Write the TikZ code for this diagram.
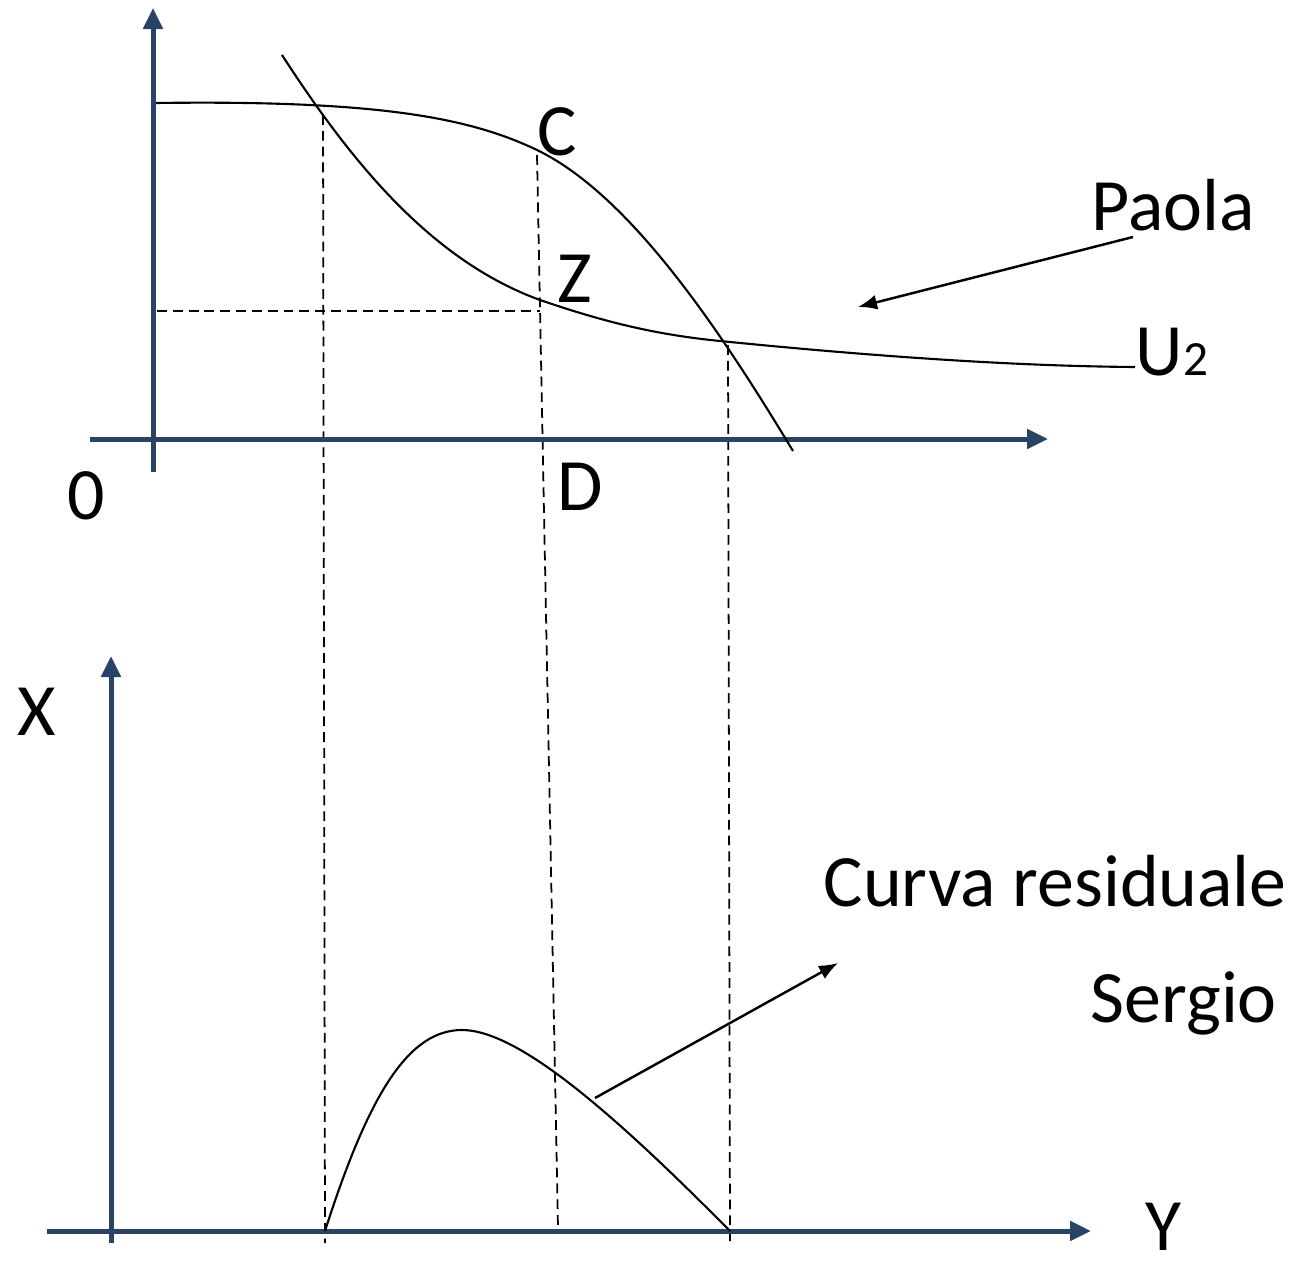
\documentclass[tikz,border=0pt]{standalone}
\usepackage{fontspec}
\setmainfont{Carlito}
\usepackage{xcolor}
\usepackage{tikz}
\usetikzlibrary{arrows.meta}
\definecolor{axisblue}{RGB}{41,67,102}

\begin{document}
\begin{tikzpicture}[x=0.01cm,y=-0.01cm,>=Latex,
  axis/.style={draw=axisblue,line width=0.05cm,-{Triangle[length=0.21cm,width=0.19cm]}},
  curve/.style={line width=0.6pt},
  guide/.style={line width=0.5pt,dash pattern=on 2.8pt off 1.7pt},
  pointer/.style={line width=0.7pt,-{Latex[length=0.19cm,width=0.15cm]}},
  lbl/.style={anchor=base west,inner sep=0pt,font=\fontsize{21}{25}\selectfont}
]
  \useasboundingbox (0,0) rectangle (1298,1264);

  \coordinate (ya0) at (153,472);  \coordinate (ya1) at (153,8);
  \coordinate (xa0) at (90,439);   \coordinate (xa1) at (1048,439);
  \coordinate (yb0) at (111,1243); \coordinate (yb1) at (111,656);
  \coordinate (xb0) at (47,1231);  \coordinate (xb1) at (1091,1231);

  \draw[guide] (323,115) -- (325,1243);
  \draw[guide] (537,155) -- (558,1228);
  \draw[guide] (728,345) -- (730,1243);
  \draw[guide] (157,311) -- (540,311);

  \draw[axis] (ya0) -- (ya1);
  \draw[axis] (xa0) -- (xa1);
  \draw[axis] (yb0) -- (yb1);
  \draw[axis] (xb0) -- (xb1);

  \draw[curve] (156,103) .. controls (380,100) and (470,118) .. (537,150)
    .. controls (630,195) and (720,330) .. (793,451);
  \draw[curve] (282,55) .. controls (350,160) and (430,260) .. (540,300)
    .. controls (610,324) and (660,335) .. (720,341)
    .. controls (850,354) and (1000,366) .. (1135,367);
  \draw[curve] (325,1231) .. controls (370,1090) and (410,1030) .. (462,1030)
    .. controls (520,1030) and (620,1120) .. (730,1231);

  \node[lbl] (lblC) at (537,156) {C};
  \node[lbl] (lblZ) at (557,303) {Z};
  \node[lbl] (lblPaola) at (1091,231) {Paola};
  \node[lbl] (lblU) at (1135,375) {U{\fontsize{14}{16}\selectfont 2}};
  \node[lbl] (lblO) at (67,519) {0};
  \node[lbl] (lblD) at (557,510) {D};
  \node[lbl] (lblX) at (17,735) {X};
  \node[lbl] (lblCurva) at (823,906) {Curva residuale};
  \node[lbl] (lblSergio) at (1090,1022) {Sergio};
  \node[lbl] (lblY) at (1145,1250) {Y};

  \coordinate (pa) at (1133,237); \coordinate (pb) at (858,307);
  \coordinate (ra) at (595,1098); \coordinate (rb) at (838,963);
  \draw[pointer] (pa) -- (pb);
  \draw[pointer] (ra) -- (rb);
\end{tikzpicture}
\end{document}
